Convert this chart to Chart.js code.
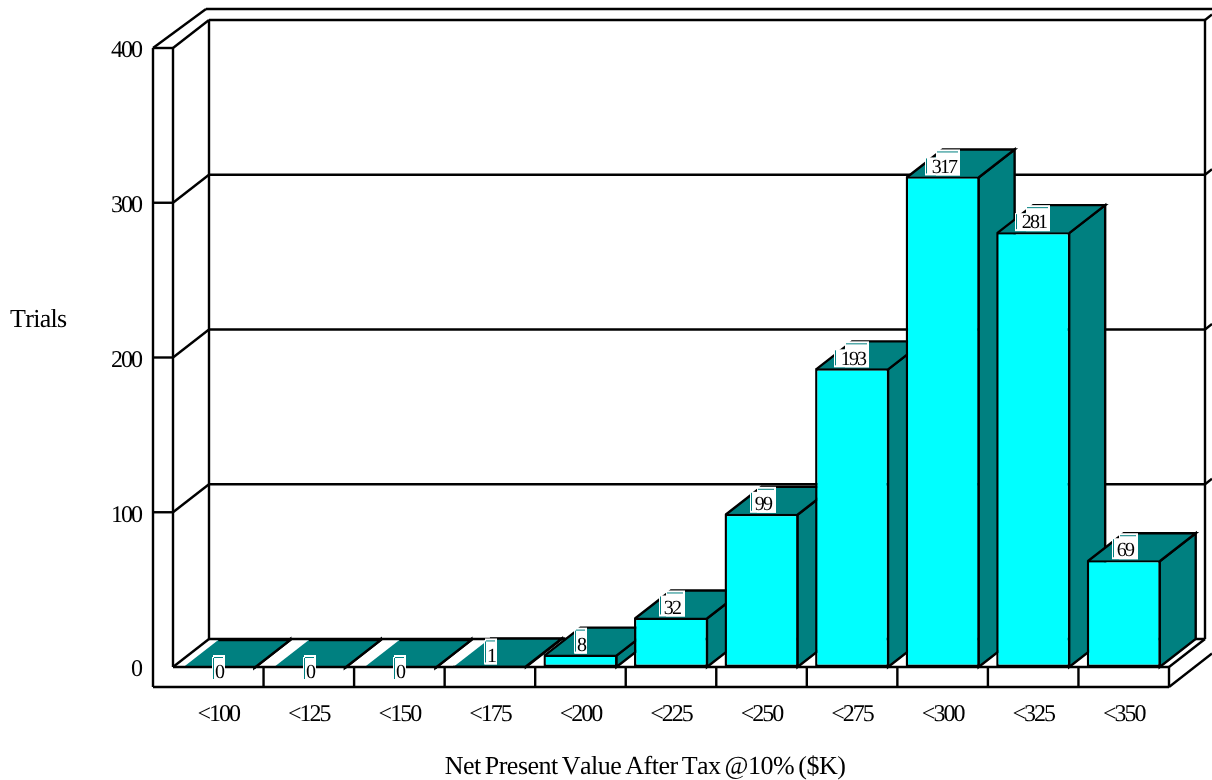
<!DOCTYPE html>
<html>
<head>
<meta charset="utf-8">
<title>Net Present Value After Tax</title>
<script src="https://cdn.jsdelivr.net/npm/chart.js@4"></script>
<style>
    html, body { margin: 0; padding: 0; background: #fff; }
    canvas { display: block; }
</style>
</head>
<body>
<canvas id="npvChart" width="1212" height="780"></canvas>
<script>
var categories = ['<100', '<125', '<150', '<175', '<200', '<225', '<250', '<275', '<300', '<325', '<350'];
var trials = [0, 0, 0, 1, 8, 32, 99, 193, 317, 281, 69];
var yTicks = [0, 100, 200, 300, 400];
var xTitle = 'Net Present Value After Tax @10% ($K)';
var yTitle = 'Trials';

var FONT = '"Liberation Serif", "Times New Roman", serif';
var TEAL = '#008080';
var CYAN = '#00ffff';
var DEPTH_X = 36, DEPTH_Y = 28;
var LINE = 2.4;

function line(ctx, x1, y1, x2, y2) {
    ctx.beginPath();
    ctx.moveTo(x1, y1);
    ctx.lineTo(x2, y2);
    ctx.stroke();
}

// side walls, back wall and the lines running round them
function drawWalls(chart) {
    var ctx = chart.ctx, area = chart.chartArea, y = chart.scales.y;
    var left = area.left, right = area.right, bottom = area.bottom;
    var backL = left + DEPTH_X, backR = right + DEPTH_X;
    var W = chart.width;
    ctx.lineWidth = LINE;
    ctx.strokeStyle = '#000';

    line(ctx, 153, area.top, 153, bottom + 20);
    line(ctx, left, area.top, left, bottom);
    line(ctx, backL, area.top - DEPTH_Y, backL, bottom - DEPTH_Y);
    line(ctx, backR, area.top - DEPTH_Y, backR, bottom - DEPTH_Y);
    line(ctx, 153, area.top, 206, 9);
    line(ctx, 206, 9, W, 9);

    yTicks.forEach(function (v) {
        var py = y.getPixelForValue(v);
        line(ctx, left, py, backL, py - DEPTH_Y);
        line(ctx, backL, py - DEPTH_Y, backR, py - DEPTH_Y);
        if (v > 0) {
            line(ctx, 153, py, left, py);
            line(ctx, backR, py - DEPTH_Y, W, py - DEPTH_Y - (W - backR) * DEPTH_Y / DEPTH_X);
        }
    });
}

// top and right faces of each bar, the front comes from the bar dataset itself
function drawBarDepth(chart) {
    var ctx = chart.ctx;
    ctx.lineWidth = LINE;
    ctx.strokeStyle = '#000';
    ctx.lineJoin = 'miter';
    chart.getDatasetMeta(0).data.forEach(function (bar) {
        var half = bar.width / 2;
        var l = bar.x - half + 1, r = bar.x + half - 1;
        var top = bar.y + 1, bot = bar.base;

        ctx.fillStyle = TEAL;
        ctx.beginPath();
        ctx.moveTo(r, top);
        ctx.lineTo(r + DEPTH_X, top - DEPTH_Y);
        ctx.lineTo(r + DEPTH_X, bot - DEPTH_Y);
        ctx.lineTo(r, bot);
        ctx.closePath();
        ctx.fill();
        ctx.stroke();

        ctx.beginPath();
        ctx.moveTo(l, top);
        ctx.lineTo(l + DEPTH_X, top - DEPTH_Y);
        ctx.lineTo(r + DEPTH_X, top - DEPTH_Y);
        ctx.lineTo(r, top);
        ctx.closePath();
        ctx.fill();
        // the flat bars have no visible edge on their left side
        ctx.beginPath();
        if (bot - top > 2) {
            ctx.moveTo(l, top);
            ctx.lineTo(l + DEPTH_X, top - DEPTH_Y);
        } else {
            ctx.moveTo(l + DEPTH_X, top - DEPTH_Y);
        }
        ctx.lineTo(r + DEPTH_X, top - DEPTH_Y);
        ctx.lineTo(r, top);
        ctx.stroke();
    });
}

// base slab under the floor with the category dividers
function drawBase(chart) {
    var ctx = chart.ctx, area = chart.chartArea, x = chart.scales.x;
    var band = x.width / categories.length;
    var slab = area.bottom + 20;
    ctx.lineWidth = LINE;
    ctx.strokeStyle = '#000';
    line(ctx, area.left, area.bottom, area.right, area.bottom);
    line(ctx, 153, slab, area.right, slab);
    categories.forEach(function (c, i) {
        var px = x.getPixelForValue(i) + band / 2;
        line(ctx, px, area.bottom, px, slab);
    });
    line(ctx, area.right, area.bottom, area.right + DEPTH_X, area.bottom - DEPTH_Y);
    line(ctx, area.right, slab, chart.width, slab - (chart.width - area.right) * DEPTH_Y / DEPTH_X);
}

// white value tag with its little teal corner marks
function drawValueLabels(chart) {
    var ctx = chart.ctx;
    var leftOff = [7, 13, 19], rightOff = [6, 13, 16], stepOff = [5, 5, 7], markOff = [14, 11, 8];
    chart.getDatasetMeta(0).data.forEach(function (bar, i) {
        var value = trials[i];
        var text = String(value), n = text.length - 1;
        var cx = Math.round(bar.x) + 1;
        var cy = value === 0 ? bar.y + 5 : bar.y - 10;
        var left = cx - leftOff[n], right = cx + rightOff[n], stepX = cx - stepOff[n];
        var top = cy - 17, markTop = cy - markOff[n], bottom = cy + 9;

        ctx.fillStyle = '#fff';
        ctx.fillRect(left, markTop - 1, right - left, bottom - markTop + 1);
        ctx.fillRect(stepX - 1, top, right - stepX + 1, bottom - top);

        ctx.strokeStyle = TEAL;
        ctx.lineWidth = 1;
        line(ctx, left + 1.5, markTop, left + 1.5, cy + 7);
        line(ctx, stepX, top + 2.5, right - 2, top + 2.5);

        ctx.save();
        ctx.font = '20px ' + FONT;
        ctx.letterSpacing = '-1.8px';
        ctx.fillStyle = '#000';
        ctx.textAlign = 'center';
        ctx.textBaseline = 'middle';
        ctx.fillText(text, cx, cy + 1);
        ctx.restore();
    });
}

function drawTitles(chart) {
    var ctx = chart.ctx;
    ctx.save();
    ctx.font = '26px ' + FONT;
    ctx.letterSpacing = '-0.5px';
    ctx.wordSpacing = '-2px';
    ctx.fillStyle = '#000';
    ctx.textBaseline = 'alphabetic';
    ctx.textAlign = 'center';
    ctx.fillText(xTitle, 645, 774);
    ctx.textAlign = 'left';
    ctx.letterSpacing = '-0.7px';
    ctx.fillText(yTitle, 10, 327);
    ctx.restore();
}

var depthPlugin = {
    id: 'depth3d',
    beforeDraw: function (chart) {
        // tick labels pick these up from the context state
        chart.ctx.letterSpacing = '-2px';
        chart.ctx.fontKerning = 'none';
        chart.ctx.textRendering = 'geometricPrecision';
    },
    beforeDatasetsDraw: function (chart) {
        drawWalls(chart);
        drawBarDepth(chart);
    },
    afterDatasetsDraw: function (chart) {
        drawBase(chart);
        drawValueLabels(chart);
        drawTitles(chart);
    }
};

var ctx = document.getElementById('npvChart').getContext('2d');
var npvChart = new Chart(ctx, {
    type: 'bar',
    data: {
        labels: categories,
        datasets: [{
            label: 'Trials',
            data: trials,
            backgroundColor: CYAN,
            borderColor: '#000',
            borderWidth: LINE,
            borderSkipped: false,
            barPercentage: 0.817,
            categoryPercentage: 1
        }]
    },
    plugins: [depthPlugin],
    options: {
        responsive: false,
        animation: false,
        events: [],
        layout: { padding: { top: 48, right: 43, left: 0, bottom: 0 } },
        plugins: { legend: { display: false }, tooltip: { enabled: false } },
        scales: {
            x: {
                grid: { display: false, drawTicks: false },
                border: { display: false },
                afterFit: function (scale) { scale.height = 113; },
                ticks: {
                    autoSkip: false,
                    maxRotation: 0,
                    padding: 33,
                    color: '#000',
                    font: { family: FONT, size: 24 }
                }
            },
            y: {
                min: 0,
                max: 400,
                grid: { display: false, drawTicks: false },
                border: { display: false },
                afterFit: function (scale) { scale.width = 173; },
                afterBuildTicks: function (scale) {
                    scale.ticks = yTicks.map(function (v) { return { value: v }; });
                },
                ticks: {
                    padding: 32,
                    labelOffset: 3,
                    color: '#000',
                    font: { family: FONT, size: 24 }
                }
            }
        }
    }
});
</script>
</body>
</html>
